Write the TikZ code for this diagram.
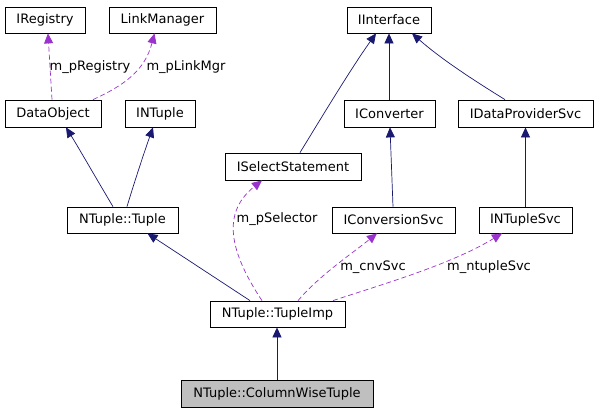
\documentclass[tikz,border=0pt]{standalone}
\usepackage{fontspec}
\setmainfont{DejaVu Sans}
\usetikzlibrary{arrows.meta}
\definecolor{inhcol}{HTML}{191970}
\definecolor{usecol}{HTML}{9A32CD}
\definecolor{selfill}{HTML}{BFBFBF}
\tikzset{
  cls/.style={draw=black, line width=0.8pt, fill=white, minimum height=26pt, inner sep=0pt, font=\fontsize{13}{15}\selectfont},
  inh/.style={draw=inhcol, line width=0.7pt, -{Triangle[length=10pt,width=9pt]}},
  usage/.style={draw=usecol, line width=0.7pt, dash pattern=on 5pt off 3pt, -{Triangle[length=10pt,width=9pt]}},
  lbl/.style={inner sep=0pt, font=\fontsize{13}{15}\selectfont}
}
\begin{document}
\begin{tikzpicture}[x=1pt,y=-1pt]
\useasboundingbox (0,0) rectangle (597,413);
\node[cls, minimum width=80] (ireg) at (45,20) {IRegistry};
\node[cls, minimum width=107] (lm) at (162.5,20) {LinkManager};
\node[cls, minimum width=84] (iif) at (389,20) {IInterface};
\node[cls, minimum width=96, minimum height=27] (dobj) at (53,113.5) {DataObject};
\node[cls, minimum width=70, minimum height=27] (intuple) at (160,113.5) {INTuple};
\node[cls, minimum width=91, minimum height=27] (iconv) at (389.5,113.5) {IConverter};
\node[cls, minimum width=135, minimum height=27] (idps) at (525.5,113.5) {IDataProviderSvc};
\node[cls, minimum width=136, minimum height=27] (isel) at (293,166.5) {ISelectStatement};
\node[cls, minimum width=111] (tuple) at (122.5,220) {NTuple::Tuple};
\node[cls, minimum width=123] (icnv) at (393.5,220) {IConversionSvc};
\node[cls, minimum width=93] (intsvc) at (525.5,220) {INTupleSvc};
\node[cls, minimum width=135] (timp) at (277.5,314) {NTuple::TupleImp};
\node[cls, minimum width=192, minimum height=27, fill=selfill] (cwt) at (277,393.5) {NTuple::ColumnWiseTuple};

% inheritance
\draw[inh] ([xshift=-9.5]tuple.north) .. controls (100,185) and (80,150) .. ([xshift=13]dobj.south);
\draw[inh] ([xshift=4.5]tuple.north) .. controls (135,180) and (145,150) .. ([xshift=-7]intuple.south);
\draw[inh] ([xshift=-27.5]timp.north) -- ([xshift=25]tuple.south);
\draw[inh] ([xshift=7]isel.north) .. controls (320,120) and (350,70) .. ([xshift=-13]iif.south);
\draw[inh] ([xshift=-0.5]iconv.north) -- (iif.south);
\draw[inh] ([xshift=-20.5]idps.north) .. controls (470,78) and (440,58) .. ([xshift=23]iif.south);
\draw[inh] ([xshift=-0.5]icnv.north) -- ([xshift=0.5]iconv.south);
\draw[inh] (intsvc.north) -- (idps.south);
\draw[inh] (cwt.north) -- ([xshift=-0.5]timp.south);

% usage
\draw[usage] ([xshift=-1]dobj.north) -- ([xshift=3]ireg.south);
\draw[usage] ([xshift=40]dobj.north) .. controls (125,85) and (145,70) .. ([xshift=-8]lm.south);
\draw[usage] ([xshift=-15.5]timp.north) .. controls (225,245) and (225,210) .. ([xshift=-31]isel.south);
\draw[usage] ([xshift=20.5]timp.north) .. controls (320,275) and (350,255) .. ([xshift=-16.5]icnv.south);
\draw[usage] ([xshift=55.5]timp.north) .. controls (380,285) and (450,265) .. ([xshift=-23.5]intsvc.south);

% labels
\node[lbl] (l1) at (90,67) {m\_pRegistry};
\node[lbl] (l2) at (186,67) {m\_pLinkMgr};
\node[lbl] (l3) at (277,219) {m\_pSelector};
\node[lbl] (l4) at (373,267) {m\_cnvSvc};
\node[lbl] (l5) at (489,267) {m\_ntupleSvc};
\end{tikzpicture}
\end{document}
